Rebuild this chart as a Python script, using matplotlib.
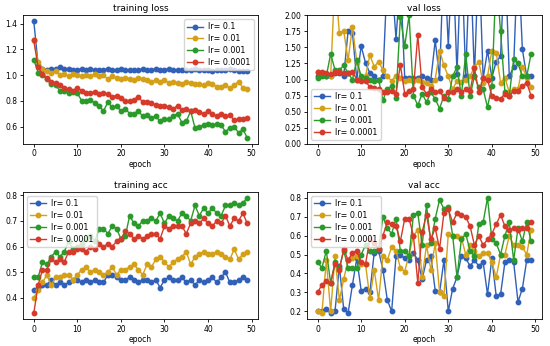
import matplotlib
matplotlib.use("Agg")
import matplotlib.pyplot as plt
import numpy as np

epochs = list(range(50))
labels = ["lr= 0.1", "lr= 0.01", "lr= 0.001", "lr= 0.0001"]
colors = ["#3060b8", "#d4a017", "#2a9a2a", "#d63a2a"]

train_loss_01 = [1.42, 1.08, 1.05, 1.04, 1.05, 1.05, 1.06, 1.05, 1.05, 1.04, 1.04, 1.05, 1.04, 1.05, 1.04, 1.04, 1.04, 1.05, 1.04, 1.04,
                 1.05, 1.04, 1.04, 1.04, 1.04, 1.05, 1.04, 1.04, 1.05, 1.04, 1.04, 1.05, 1.04, 1.04, 1.04, 1.04, 1.04, 1.05, 1.04, 1.04,
                 1.04, 1.03, 1.04, 1.04, 1.04, 1.05, 1.04, 1.03, 1.03, 1.03]
train_loss_001 = [1.27, 1.10, 1.05, 1.03, 1.02, 1.03, 1.00, 1.01, 0.99, 1.01, 1.00, 0.99, 1.00, 0.99, 1.01, 0.99, 1.00, 0.97, 0.99, 0.98,
                  0.97, 0.98, 0.97, 0.96, 0.98, 0.97, 0.96, 0.95, 0.96, 0.95, 0.96, 0.94, 0.95, 0.94, 0.93, 0.95, 0.94, 0.93, 0.93, 0.92,
                  0.94, 0.93, 0.91, 0.91, 0.92, 0.90, 0.92, 0.95, 0.90, 0.89]
train_loss_0001 = [1.12, 1.02, 1.00, 0.97, 0.93, 0.92, 0.88, 0.88, 0.86, 0.87, 0.86, 0.80, 0.80, 0.81, 0.78, 0.76, 0.72, 0.79, 0.75, 0.76,
                   0.72, 0.74, 0.70, 0.70, 0.72, 0.68, 0.69, 0.67, 0.68, 0.64, 0.66, 0.66, 0.68, 0.70, 0.63, 0.64, 0.72, 0.59, 0.60, 0.61,
                   0.62, 0.61, 0.62, 0.61, 0.56, 0.59, 0.60, 0.55, 0.58, 0.51]
train_loss_00001 = [1.27, 1.06, 1.01, 0.98, 0.95, 0.94, 0.92, 0.90, 0.89, 0.88, 0.90, 0.88, 0.86, 0.86, 0.87, 0.85, 0.86, 0.85, 0.83, 0.84,
                    0.82, 0.80, 0.80, 0.81, 0.83, 0.79, 0.79, 0.78, 0.77, 0.76, 0.76, 0.75, 0.74, 0.76, 0.73, 0.74, 0.72, 0.73, 0.71, 0.70,
                    0.72, 0.70, 0.68, 0.70, 0.68, 0.69, 0.65, 0.66, 0.66, 0.67]

val_loss_01 = [1.05, 1.08, 1.05, 1.05, 1.10, 1.10, 1.05, 1.75, 1.73, 1.00, 1.52, 1.26, 1.10, 1.05, 1.00, 1.05, 2.60, 2.60, 1.63, 2.60,
               1.03, 1.02, 1.02, 1.03, 1.05, 1.02, 1.00, 1.61, 1.02, 3.00, 1.52, 3.00, 1.09, 3.00, 1.05, 3.00, 1.05, 3.00, 1.02, 1.45,
               1.03, 1.28, 1.36, 3.00, 1.05, 1.20, 3.00, 1.47, 1.05, 1.06]
val_loss_001 = [1.12, 1.10, 1.08, 1.05, 2.60, 1.72, 1.76, 1.30, 1.82, 1.28, 1.00, 1.05, 1.38, 1.20, 1.28, 1.15, 1.05, 0.98, 1.06, 1.03,
                0.98, 1.00, 0.98, 1.00, 0.97, 0.95, 0.90, 1.00, 1.45, 1.22, 1.05, 0.85, 0.98, 0.96, 1.00, 1.05, 1.20, 1.27, 0.95, 1.05,
                1.45, 1.42, 0.95, 1.03, 0.80, 0.85, 0.85, 1.20, 1.03, 0.88]
val_loss_0001 = [1.03, 1.05, 1.05, 1.40, 1.15, 1.15, 1.22, 1.10, 1.00, 1.30, 1.05, 1.02, 1.00, 0.98, 1.00, 0.68, 0.85, 0.90, 0.72, 1.97,
                 1.52, 2.00, 0.75, 0.60, 0.78, 0.65, 0.80, 0.70, 0.55, 0.75, 0.70, 1.05, 1.20, 0.75, 1.40, 0.75, 1.05, 0.88, 0.85, 0.57,
                 0.90, 2.60, 1.75, 0.80, 0.75, 1.32, 1.25, 1.05, 1.05, 1.40]
val_loss_00001 = [1.12, 1.12, 1.10, 1.08, 1.12, 1.12, 1.10, 1.10, 1.12, 1.00, 0.98, 0.98, 0.88, 0.87, 0.85, 0.80, 0.80, 0.82, 0.78, 1.23,
                  0.78, 0.82, 0.85, 1.69, 0.88, 0.78, 0.85, 0.80, 0.82, 0.72, 0.80, 0.80, 0.85, 0.80, 0.85, 0.82, 1.18, 0.80, 1.02, 1.00,
                  0.75, 0.72, 0.70, 0.78, 0.75, 0.82, 0.83, 0.90, 0.95, 0.75]

train_acc_01 = [0.43, 0.44, 0.45, 0.45, 0.47, 0.45, 0.46, 0.45, 0.46, 0.47, 0.47, 0.46, 0.47, 0.46, 0.47, 0.46, 0.46, 0.49, 0.49, 0.48,
                0.47, 0.47, 0.48, 0.47, 0.46, 0.47, 0.47, 0.46, 0.47, 0.44, 0.47, 0.48, 0.47, 0.47, 0.48, 0.46, 0.47, 0.45, 0.47, 0.46,
                0.47, 0.48, 0.46, 0.48, 0.50, 0.46, 0.46, 0.47, 0.48, 0.47]
train_acc_001 = [0.40, 0.43, 0.46, 0.49, 0.45, 0.48, 0.48, 0.49, 0.49, 0.47, 0.49, 0.51, 0.52, 0.50, 0.51, 0.50, 0.49, 0.50, 0.52, 0.49,
                 0.51, 0.51, 0.52, 0.53, 0.51, 0.49, 0.53, 0.52, 0.55, 0.56, 0.54, 0.52, 0.54, 0.55, 0.56, 0.58, 0.53, 0.56, 0.57, 0.58,
                 0.57, 0.57, 0.58, 0.57, 0.56, 0.55, 0.59, 0.55, 0.57, 0.58]
train_acc_0001 = [0.48, 0.48, 0.54, 0.53, 0.56, 0.58, 0.56, 0.58, 0.62, 0.59, 0.60, 0.61, 0.63, 0.64, 0.62, 0.67, 0.67, 0.65, 0.68, 0.67,
                  0.63, 0.64, 0.72, 0.69, 0.68, 0.70, 0.70, 0.71, 0.70, 0.73, 0.69, 0.72, 0.71, 0.70, 0.73, 0.72, 0.70, 0.76, 0.72, 0.75,
                  0.73, 0.75, 0.73, 0.72, 0.76, 0.76, 0.77, 0.76, 0.77, 0.79]
train_acc_00001 = [0.34, 0.45, 0.51, 0.51, 0.55, 0.54, 0.55, 0.54, 0.58, 0.58, 0.59, 0.59, 0.58, 0.60, 0.59, 0.61, 0.60, 0.61, 0.60, 0.62,
                   0.63, 0.66, 0.65, 0.63, 0.64, 0.63, 0.64, 0.65, 0.65, 0.63, 0.68, 0.67, 0.68, 0.68, 0.68, 0.65, 0.69, 0.70, 0.69, 0.71,
                   0.69, 0.68, 0.70, 0.69, 0.72, 0.68, 0.71, 0.70, 0.73, 0.69]

val_acc_01 = [0.20, 0.20, 0.21, 0.19, 0.20, 0.44, 0.21, 0.19, 0.34, 0.48, 0.31, 0.32, 0.30, 0.51, 0.52, 0.42, 0.26, 0.20, 0.49, 0.50,
              0.48, 0.47, 0.51, 0.47, 0.37, 0.47, 0.49, 0.31, 0.30, 0.47, 0.20, 0.32, 0.38, 0.49, 0.48, 0.44, 0.47, 0.44, 0.46, 0.29,
              0.48, 0.28, 0.29, 0.46, 0.47, 0.46, 0.25, 0.32, 0.47, 0.47]
val_acc_001 = [0.20, 0.19, 0.47, 0.20, 0.49, 0.26, 0.37, 0.47, 0.48, 0.49, 0.45, 0.45, 0.27, 0.42, 0.26, 0.49, 0.47, 0.54, 0.52, 0.43,
               0.41, 0.50, 0.60, 0.63, 0.38, 0.55, 0.42, 0.56, 0.30, 0.28, 0.61, 0.60, 0.60, 0.59, 0.50, 0.55, 0.52, 0.49, 0.51, 0.51,
               0.46, 0.38, 0.50, 0.50, 0.60, 0.55, 0.55, 0.54, 0.50, 0.63]
val_acc_0001 = [0.46, 0.43, 0.52, 0.35, 0.46, 0.43, 0.52, 0.43, 0.43, 0.43, 0.50, 0.55, 0.52, 0.52, 0.53, 0.70, 0.64, 0.61, 0.69, 0.52,
                0.52, 0.49, 0.71, 0.72, 0.55, 0.76, 0.56, 0.69, 0.79, 0.74, 0.75, 0.60, 0.38, 0.58, 0.61, 0.52, 0.49, 0.66, 0.67, 0.80,
                0.58, 0.56, 0.50, 0.60, 0.67, 0.47, 0.64, 0.57, 0.67, 0.57]
val_acc_00001 = [0.30, 0.34, 0.36, 0.35, 0.45, 0.42, 0.53, 0.47, 0.51, 0.52, 0.46, 0.45, 0.58, 0.56, 0.53, 0.60, 0.67, 0.66, 0.65, 0.57,
                 0.69, 0.69, 0.60, 0.35, 0.62, 0.71, 0.58, 0.64, 0.53, 0.72, 0.74, 0.67, 0.72, 0.71, 0.70, 0.65, 0.55, 0.60, 0.55, 0.58,
                 0.61, 0.66, 0.71, 0.65, 0.63, 0.64, 0.63, 0.64, 0.64, 0.67]

panels = [
    ("training loss", [train_loss_01, train_loss_001, train_loss_0001, train_loss_00001], "upper right", None),
    ("val loss", [val_loss_01, val_loss_001, val_loss_0001, val_loss_00001], "lower left", (0, 2.0)),
    ("training acc", [train_acc_01, train_acc_001, train_acc_0001, train_acc_00001], "upper left", None),
    ("val acc", [val_acc_01, val_acc_001, val_acc_0001, val_acc_00001], "upper left", None),
]

rects = [
    [0.042, 0.584, 0.427, 0.372],
    [0.558, 0.584, 0.427, 0.372],
    [0.042, 0.078, 0.427, 0.367],
    [0.558, 0.078, 0.427, 0.367],
]

fig = plt.figure(figsize=(5.5, 3.46), dpi=100)
for (title, series, loc, ylim), rect in zip(panels, rects):
    ax = fig.add_axes(rect)
    for s, lab, c in zip(series, labels, colors):
        ax.plot(epochs, s, marker="o", markersize=3.2, linewidth=1.0, color=c, label=lab)
    ax.set_title(title, fontsize=6.5, pad=3)
    ax.set_xlabel("epoch", fontsize=5.5, labelpad=1)
    if ylim is not None:
        ax.set_ylim(*ylim)
        ax.set_yticks(np.arange(0, 2.01, 0.25))
        ax.yaxis.set_major_formatter(matplotlib.ticker.FormatStrFormatter("%.2f"))
    ax.set_xticks([0, 10, 20, 30, 40, 50])
    ax.tick_params(labelsize=5.5, length=2.5, width=0.6, pad=1.5)
    for sp in ax.spines.values():
        sp.set_linewidth(0.6)
    ax.legend(loc=loc, fontsize=5.8, handlelength=2.0, labelspacing=0.35,
              borderpad=0.4, handletextpad=0.6, framealpha=0.8)

fig.savefig("out.png", dpi=100)
